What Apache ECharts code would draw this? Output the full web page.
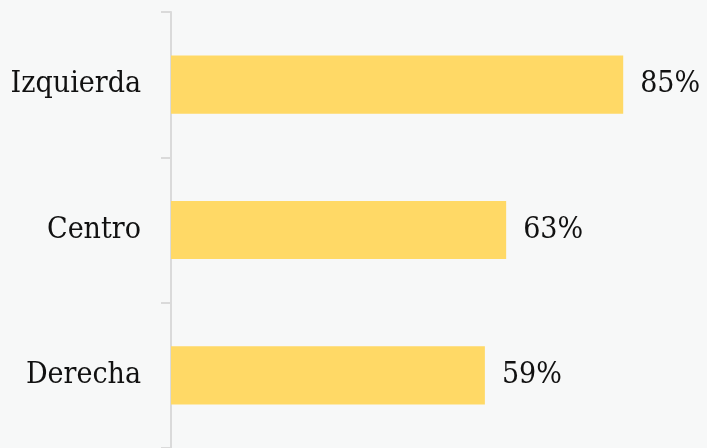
<!DOCTYPE html>
<html>
<head>
<meta charset="utf-8">
<script src="https://cdn.jsdelivr.net/npm/echarts@6/dist/echarts.min.js"></script>
<style>
  html, body { margin: 0; padding: 0; background: #f7f8f8; }
  #chart { width: 707px; height: 448px; }
</style>
</head>
<body>
<div id="chart"></div>
<script>
// categories top to bottom
const categories = ['Izquierda', 'Centro', 'Derecha'];
const values = [85, 63, 59];

const serif = '"DejaVu Serif Condensed", "DejaVu Serif", serif';
const chart = echarts.init(document.getElementById('chart'));

const option = {
  backgroundColor: '#f7f8f8',
  textStyle: { fontFamily: serif },
  grid: { left: 171, right: 4, top: 12, bottom: -4 },
  xAxis: {
    type: 'value',
    min: 0,
    max: 100,
    show: false
  },
  yAxis: {
    type: 'category',
    data: categories,
    inverse: true,
    axisLine: { show: true, lineStyle: { color: '#dadada', width: 2 } },
    axisTick: { show: true, length: 10, lineStyle: { color: '#dadada', width: 2 } },
    axisLabel: { color: '#111', fontSize: 30, margin: 30, fontFamily: serif, padding: [9, 0, 0, 0] },
    splitLine: { show: false }
  },
  series: [{
    type: 'bar',
    data: values,
    barWidth: '40%',
    itemStyle: { color: '#ffd966' },
    label: {
      show: true,
      position: 'right',
      distance: 17,
      formatter: '{c}%',
      color: '#111',
      fontSize: 30,
      fontFamily: serif,
      padding: [9, 0, 0, 0]
    },
    animation: false
  }]
};

chart.setOption(option);
</script>
</body>
</html>
